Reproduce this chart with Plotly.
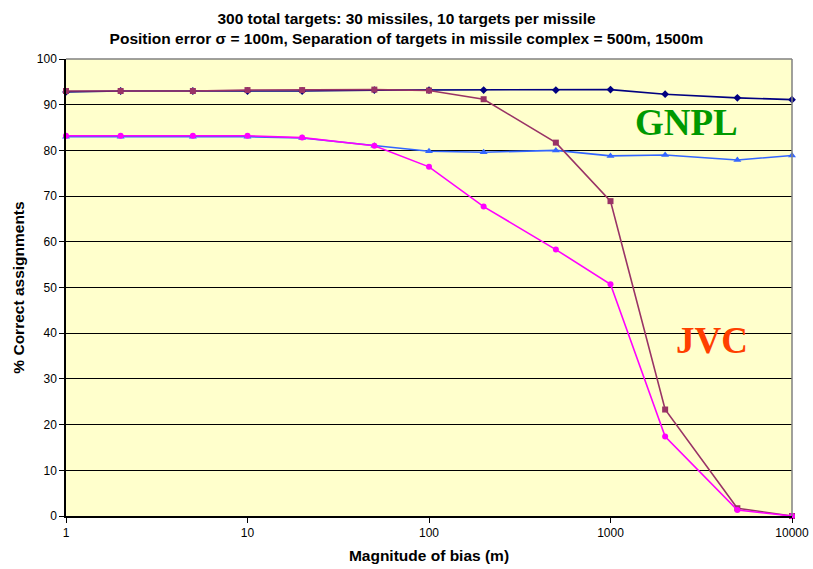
import plotly.graph_objects as go

bias = [1, 2, 5, 10, 20, 50, 100, 200, 500, 1000, 2000, 5000, 10000]
gnpl_500 = [92.8, 93.0, 93.0, 93.0, 93.0, 93.2, 93.2, 93.2, 93.2, 93.3, 92.3, 91.5, 91.1]
jvc_500 = [93.0, 93.0, 93.0, 93.2, 93.2, 93.3, 93.1, 91.2, 81.7, 68.9, 23.3, 1.7, 0.0]
gnpl_1500 = [83.0, 83.0, 83.0, 83.0, 82.7, 81.0, 79.8, 79.6, 80.0, 78.8, 79.0, 77.9, 78.9]
jvc_1500 = [83.2, 83.2, 83.2, 83.2, 82.8, 81.0, 76.4, 67.7, 58.3, 50.7, 17.4, 1.3, 0.0]

y_ticks = list(range(0, 101, 10))
x_ticks = [1, 10, 100, 1000, 10000]

fig = go.Figure()
series = [
    ("GNPL 500m", gnpl_500, "#000080", "diamond", 6),
    ("GNPL 1500m", gnpl_1500, "#3366FF", "triangle-up", 7),
    ("JVC 500m", jvc_500, "#993366", "square", 6),
    ("JVC 1500m", jvc_1500, "#FF00FF", "circle", 6),
]
for name, ys, col, sym, sz in series:
    fig.add_trace(go.Scatter(
        x=bias, y=ys, name=name, mode="lines+markers",
        line=dict(color=col, width=1.6),
        marker=dict(color=col, symbol=sym, size=sz),
        cliponaxis=False,
    ))

fig.add_annotation(x=0.855, y=0.86, xref="paper", yref="paper", text="<b>GNPL</b>",
                   xanchor="center", yanchor="middle",
                   showarrow=False, font=dict(family="Liberation Serif", size=37, color="#009900"))
fig.add_annotation(x=0.89, y=0.385, xref="paper", yref="paper", text="<b>JVC</b>",
                   xanchor="center", yanchor="middle",
                   showarrow=False, font=dict(family="Liberation Serif", size=37, color="#FF4000"))

fig.update_layout(
    width=813, height=569,
    margin=dict(l=66, r=21, t=59, b=53, autoexpand=False),
    paper_bgcolor="white",
    plot_bgcolor="#FFFFCC",
    showlegend=False,
    font=dict(family="Liberation Sans, Arial", size=12, color="black"),
    title=dict(
        text="<b>300 total targets: 30 missiles, 10 targets per missile<br>Position error σ = 100m, Separation of targets in missile complex = 500m, 1500m</b>",
        x=0.5, xanchor="center", y=0.958, yanchor="top", yref="container",
        font=dict(size=15.5, family="Liberation Sans, Arial"),
    ),
    xaxis=dict(
        type="log", range=[0, 4], tickvals=x_ticks, ticktext=[str(v) for v in x_ticks],
        showgrid=False, showline=True, linecolor="black", linewidth=1.5,
        ticks="outside", ticklen=5, tickcolor="black", automargin=False,
        title=dict(text="<b>Magnitude of bias (m)</b>", font=dict(size=15.5), standoff=11),
        zeroline=False,
    ),
    yaxis=dict(
        range=[0, 100], tickvals=y_ticks, automargin=False,
        showgrid=True, gridcolor="black", gridwidth=1,
        showline=True, linecolor="black", linewidth=1.5,
        ticks="outside", ticklen=5, tickcolor="black",
        title=dict(text="<b>% Correct assignments</b>", font=dict(size=15.5), standoff=8),
        zeroline=False,
    ),
)
fig.add_shape(type="line", xref="paper", yref="paper", x0=1, x1=1, y0=0, y1=1,
              line=dict(color="#808080", width=1.5))
fig.add_shape(type="line", xref="paper", yref="paper", x0=0, x1=1, y0=1, y1=1,
              line=dict(color="#808080", width=1.5))

fig.write_html(
    "out.html",
    config={"displayModeBar": False},
    post_script="document.body.style.margin='0';document.body.style.overflow='hidden';",
)
